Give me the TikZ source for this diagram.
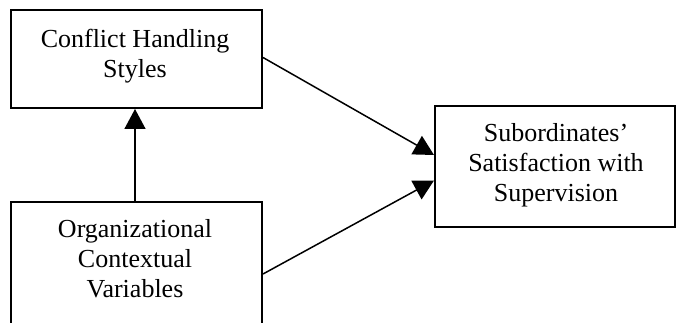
\documentclass[tikz,border=0pt]{standalone}
\usepackage{fontspec}
\setmainfont{Liberation Serif}
\usetikzlibrary{arrows.meta}
\tikzset{
  box/.style={draw, line width=2pt, inner sep=0pt},
  txt/.style={align=center, inner sep=0pt, font=\fontsize{26}{30}\selectfont},
  link/.style={line width=1.5pt, -{Triangle[width=21pt,length=20pt]}}
}
\begin{document}
\begin{tikzpicture}[x=1pt,y=-1pt]
\useasboundingbox (0,0) rectangle (676,323);
\clip (0,0) rectangle (676,323);
\node[box, minimum width=251pt, minimum height=98pt] (chs) at (136.5,59) {};
\node[txt] (chst) at (135,56) {Conflict Handling\\Styles};
\node[box, minimum width=251pt, minimum height=144pt] (cov) at (136.5,274) {};
\node[txt] (covt) at (135,259) {Organizational\\Contextual\\Variables};
\node[box, minimum width=240pt, minimum height=121pt] (sat) at (555,166.5) {};
\node[txt] (satt) at (556,165.7) {Subordinates’\\Satisfaction with\\Supervision};
\draw[link] ([xshift=-1.5pt]cov.north) -- ([xshift=-1.5pt]chs.south);
\draw[link] ([yshift=1.5pt]chs.east) -- ([yshift=11.5pt]sat.west);
\draw[link] (cov.east) -- ([yshift=-14pt]sat.west);
\end{tikzpicture}
\end{document}
